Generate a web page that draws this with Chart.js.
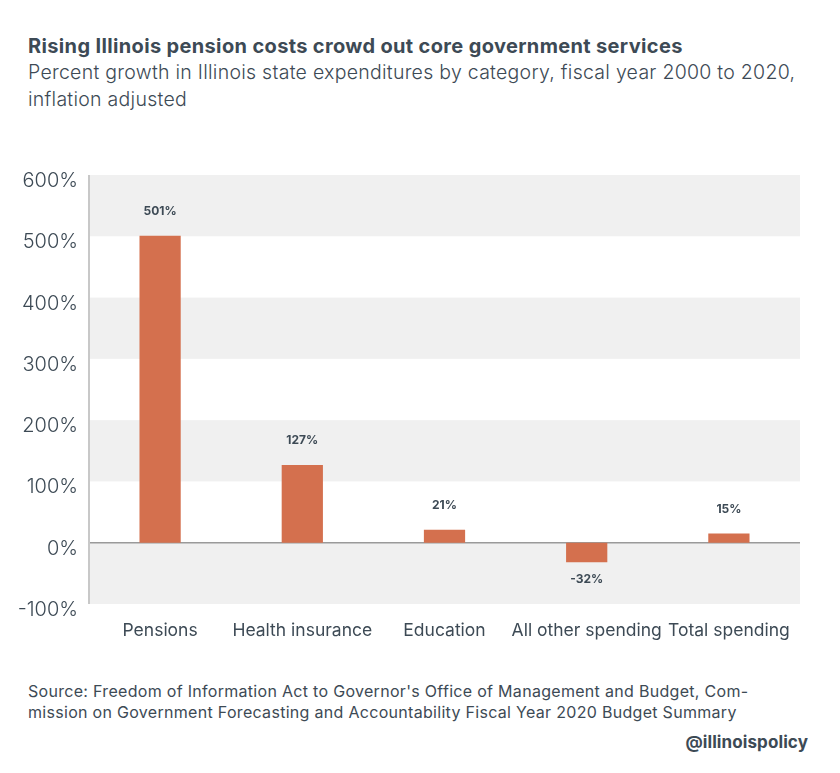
<!DOCTYPE html>
<html>
<head>
<meta charset="utf-8">
<script src="https://cdn.jsdelivr.net/npm/chart.js@4"></script>
<style>
  html, body { margin: 0; padding: 0; background: #fff; }
  body { width: 840px; height: 773px; position: relative; overflow: hidden; font-family: Inter, sans-serif; color: #3d4a55; }
  .title { position: absolute; left: 28px; top: 34px; font-size: 20px; font-weight: 700; letter-spacing: 0.35px; }
  .subtitle { position: absolute; left: 28px; top: 59px; font-size: 19.5px; font-weight: 300; line-height: 27px; letter-spacing: 0.27px; width: 810px; }
  .source { position: absolute; left: 28px; top: 681px; font-size: 16px; font-weight: 400; line-height: 21px; letter-spacing: 0.3px; }
  .handle { position: absolute; right: 32px; top: 732px; font-size: 17px; font-weight: 700; letter-spacing: 0.1px; }
  .wrap { position: absolute; left: 0; top: 140px; width: 840px; height: 520px; }
</style>
</head>
<body>
<div class="title">Rising Illinois pension costs crowd out core government services</div>
<div class="subtitle">Percent growth in Illinois state expenditures by category, fiscal year 2000 to 2020,<br>inflation adjusted</div>
<div class="wrap"><canvas id="chart" width="840" height="520"></canvas></div>
<div class="source">Source: Freedom of Information Act to Governor's Office of Management and Budget, Com-<br>mission on Government Forecasting and Accountability Fiscal Year 2020 Budget Summary</div>
<div class="handle">@illinoispolicy</div>
<script>
const categories = ['Pensions', 'Health insurance', 'Education', 'All other spending', 'Total spending'];
const growth = [501, 127, 21, -32, 15];
const yTicks = [-100, 0, 100, 200, 300, 400, 500, 600];
const shadedBands = [[500, 600], [300, 400], [100, 200], [-100, 0]];

const textColor = '#3d4a55';
const barColor = '#d4704e';

const bandsPlugin = {
  id: 'bands',
  beforeDatasetsDraw(chart) {
    const { ctx, chartArea, scales: { y } } = chart;
    ctx.save();
    ctx.fillStyle = '#f0f0f0';
    shadedBands.forEach(([lo, hi]) => {
      const top = y.getPixelForValue(hi);
      const bottom = y.getPixelForValue(lo);
      ctx.fillRect(chartArea.left, top, chartArea.right - chartArea.left, bottom - top);
    });
    // zero line
    const zero = y.getPixelForValue(0);
    ctx.strokeStyle = '#9a9a9a';
    ctx.lineWidth = 1.5;
    ctx.beginPath();
    ctx.moveTo(chartArea.left, zero);
    ctx.lineTo(chartArea.right, zero);
    ctx.stroke();
    // left axis line
    ctx.strokeStyle = '#c8c8c8';
    ctx.lineWidth = 2;
    ctx.beginPath();
    ctx.moveTo(chartArea.left, chartArea.top);
    ctx.lineTo(chartArea.left, chartArea.bottom);
    ctx.stroke();
    ctx.restore();
  },
  afterDatasetsDraw(chart) {
    const { ctx } = chart;
    const meta = chart.getDatasetMeta(0);
    ctx.save();
    ctx.fillStyle = textColor;
    ctx.font = '700 12px Inter';
    ctx.textAlign = 'center';
    ctx.textBaseline = 'middle';
    meta.data.forEach((bar, i) => {
      const v = growth[i];
      const yPos = v >= 0 ? bar.y - 24 : bar.y + 17;
      ctx.fillText(v + '%', bar.x, yPos);
    });
    ctx.restore();
  }
};

new Chart(document.getElementById('chart'), {
  type: 'bar',
  data: {
    labels: categories,
    datasets: [{
      data: growth,
      backgroundColor: barColor,
      barPercentage: 0.29,
      categoryPercentage: 1,
    }],
  },
  options: {
    responsive: false,
    animation: false,
    layout: { padding: { top: 35, right: 40, left: 0, bottom: 0 } },
    scales: {
      y: {
        min: -100,
        max: 600,
        afterFit: (scale) => { scale.width = 89; },
        afterBuildTicks: (scale) => { scale.ticks = yTicks.map(v => ({ value: v })); },
        grid: { display: false, drawTicks: false },
        border: { display: false },
        ticks: {
          padding: 11,
          labelOffset: 6,
          color: textColor,
          font: { family: 'Inter', size: 20, weight: 300 },
          callback: (v) => v + '%',
        },
      },
      x: {
        afterFit: (scale) => { scale.height = 56; },
        grid: { display: false, drawTicks: false },
        border: { display: false },
        ticks: {
          padding: 16,
          color: textColor,
          maxRotation: 0,
          autoSkip: false,
          font: { family: 'Inter', size: 17.5, weight: 400 },
        },
      },
    },
    plugins: {
      legend: { display: false },
      tooltip: { enabled: false },
    },
  },
  plugins: [bandsPlugin],
});
</script>
</body>
</html>
